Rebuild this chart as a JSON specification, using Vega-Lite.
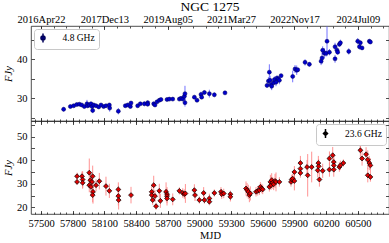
{
"$schema": "https://vega.github.io/schema/vega-lite/v6.json",
"background": "white",
"padding": {"left": 3, "top": 0, "right": 0, "bottom": 0},
"title": {"text": "NGC 1275", "font": "Liberation Serif", "fontSize": 13.5, "fontWeight": "normal", "anchor": "middle", "frame": "group", "offset": 0, "color": "#000"},
"config": {
 "font": "Liberation Serif",
 "view": {"stroke": "#222", "strokeWidth": 0.8},
 "concat": {"spacing": 0},
 "axis": {"domain": false, "grid": false, "labelFont": "Liberation Serif", "labelFontSize": 10.5, "labelColor": "#000", "tickColor": "#222", "tickWidth": 0.8, "titleFont": "Liberation Serif", "titleFontWeight": "normal", "titleFontSize": 10.5, "titleColor": "#000"},
 "legend": {"labelFont": "Liberation Serif", "labelFontSize": 9.5, "labelColor": "#000"}
},
"datasets": {
"top": [
{"mjd":57714,"flux":27.2,"err":0.6},{"mjd":57778,"flux":27.9,"err":0.4},{"mjd":57809,"flux":28.1,"err":0.4},{"mjd":57838,"flux":28.4,"err":0.4},{"mjd":57863,"flux":28.5,"err":0.4},{"mjd":57885,"flux":28.3,"err":0.4},{"mjd":57910,"flux":27.9,"err":0.4},{"mjd":57935,"flux":28.6,"err":1.0},{"mjd":57942,"flux":28.1,"err":0.6},{"mjd":57957,"flux":28.3,"err":0.5},{"mjd":57973,"flux":28.6,"err":0.5},{"mjd":57983,"flux":27.9,"err":0.5},{"mjd":57989,"flux":26.9,"err":0.7},{"mjd":57999,"flux":28.3,"err":0.5},{"mjd":58021,"flux":28.1,"err":0.4},{"mjd":58046,"flux":27.8,"err":0.4},{"mjd":58068,"flux":28.3,"err":0.4},{"mjd":58093,"flux":27.9,"err":0.4},{"mjd":58115,"flux":28.1,"err":0.4},{"mjd":58147,"flux":28.3,"err":0.5},{"mjd":58150,"flux":27.5,"err":0.9},{"mjd":58232,"flux":26.7,"err":0.8},{"mjd":58298,"flux":28.1,"err":0.4},{"mjd":58321,"flux":28.3,"err":0.4},{"mjd":58346,"flux":27.9,"err":0.4},{"mjd":58352,"flux":28.8,"err":0.4},{"mjd":58415,"flux":28.1,"err":0.4},{"mjd":58440,"flux":28.6,"err":0.4},{"mjd":58478,"flux":28.6,"err":0.6},{"mjd":58510,"flux":28.9,"err":0.5},{"mjd":58510,"flux":28.5,"err":0.5},{"mjd":58567,"flux":28.6,"err":0.5},{"mjd":58579,"flux":28.3,"err":0.5},{"mjd":58598,"flux":29.1,"err":0.4},{"mjd":58620,"flux":29.5,"err":0.4},{"mjd":58636,"flux":29.7,"err":0.4},{"mjd":58693,"flux":29.7,"err":0.4},{"mjd":58715,"flux":29.8,"err":0.4},{"mjd":58747,"flux":29.8,"err":0.4},{"mjd":58810,"flux":29.8,"err":0.4},{"mjd":58826,"flux":30.0,"err":0.4},{"mjd":58842,"flux":29.8,"err":0.4},{"mjd":58857,"flux":30.5,"err":0.5},{"mjd":58863,"flux":31.2,"err":2.0},{"mjd":58863,"flux":28.9,"err":1.0},{"mjd":58952,"flux":30.3,"err":0.5},{"mjd":58977,"flux":29.5,"err":0.4},{"mjd":59015,"flux":31.0,"err":0.7},{"mjd":59021,"flux":30.3,"err":0.4},{"mjd":59047,"flux":31.5,"err":0.5},{"mjd":59094,"flux":31.2,"err":1.0},{"mjd":59141,"flux":30.9,"err":0.6},{"mjd":59242,"flux":31.4,"err":0.5},{"mjd":59640,"flux":33.3,"err":0.5},{"mjd":59653,"flux":34.4,"err":1.0},{"mjd":59662,"flux":36.7,"err":2.0},{"mjd":59669,"flux":34.6,"err":1.2},{"mjd":59678,"flux":33.5,"err":1.0},{"mjd":59684,"flux":33.1,"err":1.0},{"mjd":59703,"flux":34.0,"err":0.8},{"mjd":59710,"flux":34.8,"err":0.8},{"mjd":59725,"flux":34.1,"err":1.0},{"mjd":59735,"flux":35.2,"err":0.6},{"mjd":59748,"flux":34.9,"err":0.6},{"mjd":59757,"flux":34.6,"err":1.0},{"mjd":59773,"flux":35.8,"err":0.5},{"mjd":59883,"flux":35.6,"err":1.5},{"mjd":59905,"flux":37.5,"err":1.0},{"mjd":59921,"flux":37.2,"err":1.2},{"mjd":59931,"flux":37.3,"err":0.6},{"mjd":60000,"flux":39.2,"err":0.8},{"mjd":60041,"flux":38.7,"err":0.6},{"mjd":60152,"flux":39.5,"err":1.0},{"mjd":60161,"flux":40.3,"err":1.5},{"mjd":60167,"flux":42.3,"err":1.0},{"mjd":60183,"flux":41.5,"err":1.3},{"mjd":60199,"flux":41.5,"err":0.8},{"mjd":60208,"flux":44.6,"err":3.8},{"mjd":60231,"flux":41.8,"err":0.8},{"mjd":60284,"flux":43.2,"err":1.0},{"mjd":60284,"flux":40.1,"err":1.0},{"mjd":60303,"flux":42.3,"err":0.8},{"mjd":60309,"flux":41.8,"err":0.6},{"mjd":60325,"flux":43.8,"err":0.6},{"mjd":60335,"flux":44.2,"err":0.8},{"mjd":60414,"flux":42.0,"err":0.8},{"mjd":60499,"flux":44.6,"err":0.8},{"mjd":60515,"flux":43.2,"err":0.7},{"mjd":60524,"flux":44.2,"err":0.6},{"mjd":60540,"flux":42.9,"err":0.5},{"mjd":60609,"flux":44.6,"err":0.6},{"mjd":60619,"flux":44.4,"err":0.5}
],
"bot": [
{"mjd":57841,"flux":33.2,"err":1.5},{"mjd":57841,"flux":30.8,"err":1.2},{"mjd":57888,"flux":33.2,"err":2},{"mjd":57894,"flux":31.8,"err":3.5},{"mjd":57894,"flux":30.4,"err":2.5},{"mjd":57957,"flux":34.7,"err":6},{"mjd":57967,"flux":31.5,"err":3},{"mjd":57957,"flux":29.4,"err":3},{"mjd":57973,"flux":28.7,"err":4},{"mjd":57983,"flux":30.8,"err":2},{"mjd":57989,"flux":33.2,"err":4.5},{"mjd":57992,"flux":26.6,"err":5},{"mjd":57989,"flux":25.2,"err":3},{"mjd":58021,"flux":29.4,"err":2.5},{"mjd":58052,"flux":31.1,"err":3.5},{"mjd":58115,"flux":29.0,"err":4},{"mjd":58147,"flux":27.0,"err":3},{"mjd":58232,"flux":27.6,"err":3},{"mjd":58232,"flux":24.8,"err":4},{"mjd":58235,"flux":23.1,"err":4},{"mjd":58352,"flux":25.2,"err":3.5},{"mjd":58548,"flux":26.6,"err":3},{"mjd":58548,"flux":25.2,"err":2},{"mjd":58557,"flux":23.1,"err":2},{"mjd":58567,"flux":29.4,"err":4},{"mjd":58579,"flux":24.8,"err":2.5},{"mjd":58589,"flux":20.5,"err":1.5},{"mjd":58620,"flux":27.0,"err":3},{"mjd":58630,"flux":22.8,"err":3},{"mjd":58684,"flux":26.6,"err":4},{"mjd":58693,"flux":25.6,"err":3},{"mjd":58693,"flux":24.8,"err":3},{"mjd":58693,"flux":23.8,"err":3},{"mjd":58747,"flux":23.4,"err":2.5},{"mjd":58810,"flux":27.0,"err":1.5},{"mjd":58842,"flux":26.1,"err":2},{"mjd":58857,"flux":25.6,"err":2},{"mjd":58867,"flux":25.9,"err":4},{"mjd":58952,"flux":27.3,"err":2.5},{"mjd":58958,"flux":25.2,"err":2.5},{"mjd":58999,"flux":23.1,"err":1.5},{"mjd":59040,"flux":26.1,"err":2.5},{"mjd":59047,"flux":23.1,"err":1.5},{"mjd":59094,"flux":23.8,"err":2},{"mjd":59094,"flux":22.4,"err":1.5},{"mjd":59141,"flux":26.1,"err":1.5},{"mjd":59204,"flux":26.6,"err":2},{"mjd":59211,"flux":25.6,"err":2},{"mjd":59230,"flux":25.9,"err":2},{"mjd":59293,"flux":25.6,"err":1.5},{"mjd":59293,"flux":24.5,"err":2},{"mjd":59441,"flux":28.0,"err":3},{"mjd":59451,"flux":27.3,"err":3},{"mjd":59463,"flux":26.6,"err":3},{"mjd":59473,"flux":25.2,"err":3},{"mjd":59482,"flux":25.9,"err":3},{"mjd":59536,"flux":26.6,"err":2},{"mjd":59552,"flux":27.0,"err":2},{"mjd":59568,"flux":27.3,"err":2},{"mjd":59577,"flux":28.7,"err":2},{"mjd":59590,"flux":28.0,"err":2},{"mjd":59599,"flux":27.6,"err":2},{"mjd":59662,"flux":28.7,"err":2},{"mjd":59672,"flux":30.8,"err":3},{"mjd":59678,"flux":29.4,"err":2},{"mjd":59684,"flux":31.5,"err":3},{"mjd":59694,"flux":30.4,"err":2.5},{"mjd":59703,"flux":29.8,"err":2.5},{"mjd":59716,"flux":31.2,"err":3},{"mjd":59725,"flux":30.8,"err":4},{"mjd":59757,"flux":30.8,"err":2},{"mjd":59867,"flux":30.8,"err":2},{"mjd":59874,"flux":31.8,"err":2},{"mjd":59883,"flux":32.2,"err":2},{"mjd":59899,"flux":31.2,"err":4},{"mjd":59899,"flux":35.0,"err":2.5},{"mjd":59956,"flux":38.8,"err":3},{"mjd":59956,"flux":36.4,"err":2},{"mjd":59956,"flux":34.6,"err":2},{"mjd":60019,"flux":37.1,"err":3},{"mjd":60025,"flux":33.6,"err":9},{"mjd":60063,"flux":37.1,"err":6.5},{"mjd":60120,"flux":35.7,"err":3},{"mjd":60126,"flux":38.8,"err":3},{"mjd":60129,"flux":37.4,"err":3},{"mjd":60136,"flux":31.8,"err":3},{"mjd":60167,"flux":35.5,"err":3},{"mjd":60231,"flux":40.7,"err":3},{"mjd":60231,"flux":36.0,"err":3},{"mjd":60262,"flux":42.1,"err":3.5},{"mjd":60272,"flux":39.2,"err":3},{"mjd":60272,"flux":37.8,"err":3},{"mjd":60272,"flux":36.0,"err":3},{"mjd":60325,"flux":37.1,"err":2},{"mjd":60335,"flux":37.8,"err":2},{"mjd":60363,"flux":38.8,"err":1.5},{"mjd":60524,"flux":47.7,"err":4},{"mjd":60524,"flux":44.2,"err":4},{"mjd":60540,"flux":40.7,"err":3},{"mjd":60578,"flux":42.5,"err":3},{"mjd":60594,"flux":40.2,"err":4},{"mjd":60609,"flux":38.8,"err":3},{"mjd":60619,"flux":37.8,"err":3},{"mjd":60594,"flux":33.6,"err":3},{"mjd":60619,"flux":32.9,"err":2}
]
},
"spacing": 0,
"bounds": "flush",
"resolve": {"scale": {"y": "independent", "color": "independent"}, "legend": {"color": "independent"}},
"vconcat": [
{
 "width": 358, "height": 95,
 "data": {"name": "top"},
 "resolve": {"axis": {"x": "independent", "y": "independent"}},
 "layer": [
  {"mark": {"type": "errorbar", "ticks": false, "color": "#5b5bff", "opacity": 0.85, "thickness": 1},
   "encoding": {
    "x": {"field": "mjd", "type": "quantitative", "scale": {"domain": [57405, 60795], "nice": false, "zero": false},
          "axis": {"orient": "top", "values": [57500, 58100, 58700, 59300, 59900, 60500], "ticks": false, "title": null, "labelPadding": 2,
                   "labelExpr": "datum.value == 57500 ? '2016Apr22' : datum.value == 58100 ? '2017Dec13' : datum.value == 58700 ? '2019Aug05' : datum.value == 59300 ? '2021Mar27' : datum.value == 59900 ? '2022Nov17' : '2024Jul09'"}},
    "y": {"field": "flux", "type": "quantitative", "scale": {"domain": [24.2, 48.5], "nice": false, "zero": false},
          "axis": {"orient": "left", "values": [30, 40], "ticks": false, "title": "FJy", "titleFontStyle": "italic", "labelPadding": 4, "titlePadding": 3}},
    "yError": {"field": "err"}
   }},
  {"mark": {"type": "point", "filled": true, "size": 16, "stroke": "#00005a", "strokeWidth": 0.5, "opacity": 1},
   "encoding": {
    "x": {"field": "mjd", "type": "quantitative", "axis": {"orient": "top", "values": [57500, 58100, 58700, 59300, 59900, 60500], "labels": false, "tickSize": -3.5, "title": null}},
    "y": {"field": "flux", "type": "quantitative", "axis": {"orient": "left", "values": [25, 30, 35, 40, 45], "labels": false, "tickSize": -3.5, "title": null}},
    "color": {"datum": "4.8 GHz", "type": "nominal", "scale": {"range": ["#0000cc"]},
              "legend": {"title": null, "orient": "top-left", "offset": 3, "padding": 3.5, "strokeColor": "#c8c8c8", "cornerRadius": 3, "fillColor": "white",
                         "symbolType": "M0,-1V1M-0.45,0A0.45,0.45 0 1,0 0.45,0A0.45,0.45 0 1,0 -0.45,0Z", "symbolSize": 81, "labelOffset": 14,
                         "encode": {"symbols": {"update": {"stroke": {"value": "#5b5bff"}, "strokeWidth": {"value": 1}, "fill": {"value": "#0000cc"}}}}}}
   }},
  {"mark": {"type": "point", "opacity": 0},
   "encoding": {
    "x": {"field": "mjd", "type": "quantitative", "axis": {"orient": "top", "values": [57500,57620,57740,57860,57980,58100,58220,58340,58460,58580,58700,58820,58940,59060,59180,59300,59420,59540,59660,59780,59900,60020,60140,60260,60380,60500,60620,60740], "labels": false, "tickSize": -2, "title": null}},
    "y": {"field": "flux", "type": "quantitative", "axis": {"orient": "right", "values": [25, 30, 35, 40, 45], "labels": false, "tickSize": -3.5, "title": null}}
   }},
  {"mark": {"type": "point", "opacity": 0},
   "encoding": {
    "x": {"field": "mjd", "type": "quantitative", "axis": {"orient": "bottom", "values": [57500,57800,58100,58400,58700,59000,59300,59600,59900,60200,60500], "labels": false, "tickSize": -3.5, "title": null}},
    "y": {"field": "flux", "type": "quantitative", "axis": null}
   }},
  {"mark": {"type": "point", "opacity": 0},
   "encoding": {
    "x": {"field": "mjd", "type": "quantitative", "axis": {"orient": "bottom", "values": [57440,57500,57560,57620,57680,57740,57800,57860,57920,57980,58040,58100,58160,58220,58280,58340,58400,58460,58520,58580,58640,58700,58760,58820,58880,58940,59000,59060,59120,59180,59240,59300,59360,59420,59480,59540,59600,59660,59720,59780,59840,59900,59960,60020,60080,60140,60200,60260,60320,60380,60440,60500,60560,60620,60680,60740], "labels": false, "tickSize": -2, "title": null}},
    "y": {"field": "flux", "type": "quantitative", "axis": null}
   }}
 ]
},
{
 "width": 358, "height": 93,
 "data": {"name": "bot"},
 "resolve": {"axis": {"x": "independent", "y": "independent"}},
 "layer": [
  {"mark": {"type": "errorbar", "ticks": false, "color": "#ff8080", "opacity": 0.85, "thickness": 1},
   "encoding": {
    "x": {"field": "mjd", "type": "quantitative", "scale": {"domain": [57405, 60795], "nice": false, "zero": false},
          "axis": {"orient": "bottom", "values": [57500,57800,58100,58400,58700,59000,59300,59600,59900,60200,60500], "ticks": false, "title": "MJD", "labelPadding": 4, "titlePadding": 2, "format": "d"}},
    "y": {"field": "flux", "type": "quantitative", "scale": {"domain": [17.2, 56.6], "nice": false, "zero": false},
          "axis": {"orient": "left", "values": [20, 30, 40, 50], "ticks": false, "title": "FJy", "titleFontStyle": "italic", "labelPadding": 4, "titlePadding": 3}},
    "yError": {"field": "err"}
   }},
  {"mark": {"type": "point", "filled": true, "shape": "diamond", "size": 24, "stroke": "#000", "strokeWidth": 0.7, "opacity": 1},
   "encoding": {
    "x": {"field": "mjd", "type": "quantitative", "axis": {"orient": "bottom", "values": [57500,57800,58100,58400,58700,59000,59300,59600,59900,60200,60500], "labels": false, "tickSize": -3.5, "title": null}},
    "y": {"field": "flux", "type": "quantitative", "axis": {"orient": "left", "values": [20, 25, 30, 35, 40, 45, 50, 55], "labels": false, "tickSize": -3.5, "title": null}},
    "color": {"datum": "23.6 GHz", "type": "nominal", "scale": {"range": ["#dd0000"]},
              "legend": {"title": null, "orient": "top-right", "offset": 3, "padding": 4, "strokeColor": "#c8c8c8", "cornerRadius": 3, "fillColor": "white",
                         "symbolType": "M0,-1V1M-0.45,0L0,-0.45L0.45,0L0,0.45Z", "symbolSize": 81, "labelOffset": 14,
                         "encode": {"symbols": {"update": {"stroke": {"value": "#ff8080"}, "strokeWidth": {"value": 1}, "fill": {"value": "#dd0000"}}}}}}
   }},
  {"mark": {"type": "point", "opacity": 0},
   "encoding": {
    "x": {"field": "mjd", "type": "quantitative", "axis": {"orient": "bottom", "values": [57440,57500,57560,57620,57680,57740,57800,57860,57920,57980,58040,58100,58160,58220,58280,58340,58400,58460,58520,58580,58640,58700,58760,58820,58880,58940,59000,59060,59120,59180,59240,59300,59360,59420,59480,59540,59600,59660,59720,59780,59840,59900,59960,60020,60080,60140,60200,60260,60320,60380,60440,60500,60560,60620,60680,60740], "labels": false, "tickSize": -2, "title": null}},
    "y": {"field": "flux", "type": "quantitative", "axis": {"orient": "right", "values": [20, 25, 30, 35, 40, 45, 50, 55], "labels": false, "tickSize": -3.5, "title": null}}
   }},
  {"mark": {"type": "point", "opacity": 0},
   "encoding": {
    "x": {"field": "mjd", "type": "quantitative", "axis": {"orient": "top", "values": [57500,57800,58100,58400,58700,59000,59300,59600,59900,60200,60500], "labels": false, "tickSize": -3.5, "title": null}},
    "y": {"field": "flux", "type": "quantitative", "axis": null}
   }},
  {"mark": {"type": "point", "opacity": 0},
   "encoding": {
    "x": {"field": "mjd", "type": "quantitative", "axis": {"orient": "top", "values": [57440,57500,57560,57620,57680,57740,57800,57860,57920,57980,58040,58100,58160,58220,58280,58340,58400,58460,58520,58580,58640,58700,58760,58820,58880,58940,59000,59060,59120,59180,59240,59300,59360,59420,59480,59540,59600,59660,59720,59780,59840,59900,59960,60020,60080,60140,60200,60260,60320,60380,60440,60500,60560,60620,60680,60740], "labels": false, "tickSize": -2, "title": null}},
    "y": {"field": "flux", "type": "quantitative", "axis": null}
   }}
 ]
}
]
}
